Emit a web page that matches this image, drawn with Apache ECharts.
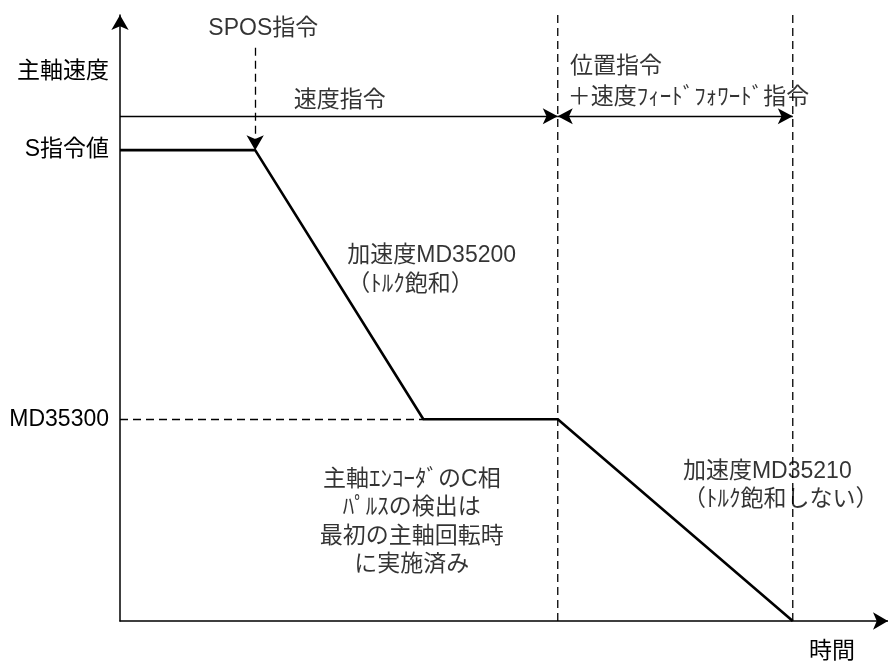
<!DOCTYPE html>
<html>
<head>
<meta charset="utf-8">
<script src="https://cdn.jsdelivr.net/npm/echarts@6/dist/echarts.min.js"></script>
<style>
  html, body { margin: 0; padding: 0; background: #fff; }
  #chart { width: 888px; height: 664px; }
</style>
</head>
<body>
<div id="chart"></div>
<script>
// 速度プロファイル（時間, 主軸速度）
const profileTimes = [0, 17.6, 39.5, 57.0, 87.6]
const profileSpeeds = [77.7, 77.7, 33.3, 33.3, 0]

// 縦軸のラベル
const levelNames = ['主軸速度', 'S指令値', 'MD35300']
const levelValues = [90.6, 77.7, 33.3]

// SPOS指令のタイミングと区間の境界
const sposTime = 17.6
const sposTop = 94.6
const phaseBounds = [57.0, 87.6]
const phaseArrowLevel = 83.3
const dashTop = 100.3

// 注記
const noteTexts = [
  'SPOS指令',
  '速度指令',
  '位置指令',
  '＋速度ﾌｨｰﾄﾞﾌｫﾜｰﾄﾞ指令',
  '加速度MD35200\n（ﾄﾙｸ飽和）',
  '主軸ｴﾝｺｰﾀﾞのC相\nﾊﾟﾙｽの検出は\n最初の主軸回転時\nに実施済み',
  '加速度MD35210\n（ﾄﾙｸ飽和しない）'
]
const noteTimes = [11.5, 28.6, 58.6, 58.3, 29.6, 38.0, 73.3]
const noteSpeeds = [97.7, 85.8, 91.4, 86.3, 57.9, 16.3, 22.3]
const noteAlign = ['left', 'center', 'left', 'left', 'left', 'center', 'left']

const FONT = '"Liberation Sans", "Noto Sans CJK JP", sans-serif'
const FONT_SIZE = 23

let charts = echarts.init(document.getElementById('chart'))

const dashStyle = { color: '#000', width: 1.3, type: [8, 5] }
const arrowStyle = { color: '#000', width: 1.3, type: 'solid' }

// 区間境界の縦破線
const boundSeries = phaseBounds.map(t => ({
  type: 'line',
  clip: false,
  symbol: 'none',
  silent: true,
  lineStyle: dashStyle,
  data: [[t, 0], [t, dashTop]]
}))

const option = {
  animation: false,
  textStyle: { fontFamily: FONT, color: '#000' },
  grid: { left: 120, right: 0, top: 15, bottom: 43 },
  xAxis: {
    type: 'value',
    min: 0,
    max: 100,
    name: '時間',
    nameLocation: 'end',
    nameGap: -56,
    nameTextStyle: {
      fontFamily: FONT, fontSize: FONT_SIZE, color: '#000',
      align: 'center', verticalAlign: 'top', padding: [19, 0, 0, 0]
    },
    axisLine: {
      show: true,
      symbol: ['none', 'arrow'],
      symbolSize: [13, 15],
      lineStyle: { color: '#000', width: 1.5 }
    },
    axisTick: { show: false },
    axisLabel: { show: false },
    splitLine: { show: false }
  },
  yAxis: {
    type: 'value',
    min: 0,
    max: 100,
    axisLine: {
      show: true,
      symbol: ['none', 'arrow'],
      symbolSize: [13, 15],
      lineStyle: { color: '#000', width: 1.5 }
    },
    axisTick: { show: false },
    axisLabel: {
      show: true,
      customValues: levelValues,
      margin: 11,
      fontFamily: FONT,
      fontSize: FONT_SIZE,
      color: '#000',
      formatter: function (v) {
        const i = levelValues.indexOf(v)
        return i >= 0 ? levelNames[i] : ''
      }
    },
    splitLine: { show: false }
  },
  series: [
    ...boundSeries,
    {
      type: 'line',
      clip: false,
      symbol: 'none',
      lineStyle: { color: '#000', width: 2.6 },
      data: profileTimes.map((t, i) => [t, profileSpeeds[i]]),
      markLine: {
        silent: true,
        symbol: 'none',
        label: { show: false },
        data: [
          // MD35300 の水平破線
          [{ coord: [0, profileSpeeds[2]], lineStyle: dashStyle },
           { coord: [profileTimes[2], profileSpeeds[2]] }],
          // SPOS指令の矢印
          [{ coord: [sposTime, sposTop], symbol: 'none', lineStyle: dashStyle },
           { coord: [sposTime, profileSpeeds[1]], symbol: 'arrow', symbolSize: [13, 15] }],
          // 速度指令区間
          [{ coord: [0, phaseArrowLevel], symbol: 'none', lineStyle: arrowStyle },
           { coord: [phaseBounds[0], phaseArrowLevel], symbol: 'arrow', symbolSize: [12, 15] }],
          // 位置指令区間
          [{ coord: [phaseBounds[0], phaseArrowLevel], symbol: 'arrow', symbolSize: [12, 15], lineStyle: arrowStyle },
           { coord: [phaseBounds[1], phaseArrowLevel], symbol: 'arrow', symbolSize: [12, 15] }]
        ]
      }
    },
    {
      type: 'scatter',
      clip: false,
      symbolSize: 0,
      silent: true,
      data: noteTexts.map((s, i) => ({
        value: [noteTimes[i], noteSpeeds[i]],
        name: s,
        label: {
          position: noteAlign[i] === 'left' ? 'right' : 'inside',
          distance: 0,
          align: noteAlign[i]
        }
      })),
      label: {
        show: true,
        formatter: p => p.name,
        fontFamily: FONT,
        fontSize: FONT_SIZE,
        lineHeight: 28.5,
        color: '#000'
      }
    }
  ]
}
charts.setOption(option)
</script>
</body>
</html>
